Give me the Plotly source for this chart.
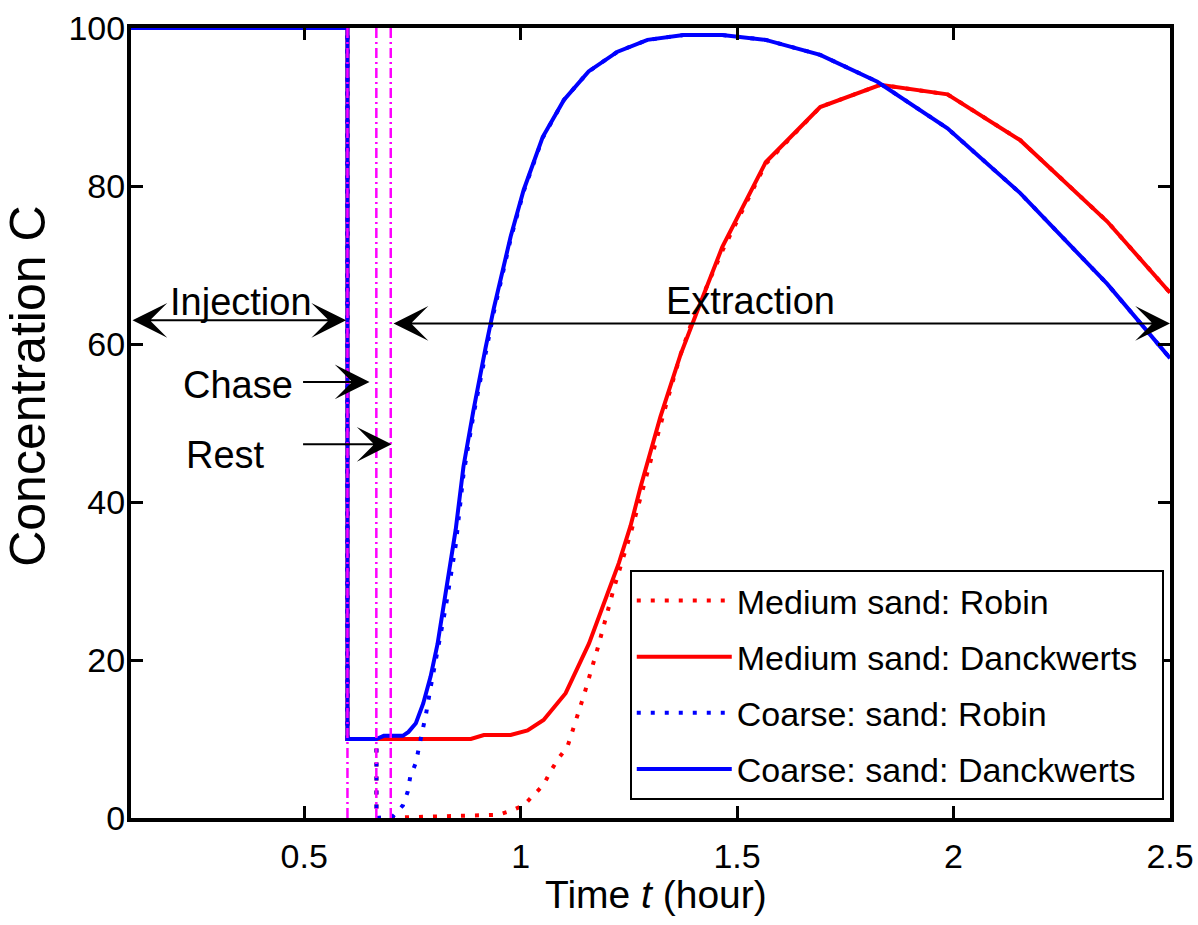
import plotly.graph_objects as go

# ---------------- data ----------------
t_med_robin = [0.1, 0.6, 0.6, 0.667, 0.667, 0.947, 0.977, 1.007, 1.03, 1.053, 1.069, 1.088, 1.108, 1.12,
               1.146, 1.178, 1.215, 1.254, 1.300, 1.339, 1.369, 1.40, 1.466, 1.566, 1.692, 1.831,
               1.986, 2.154, 2.355, 2.5]
c_med_robin = [100, 100, 10, 10, 0, 0.4, 0.9, 1.6, 2.9, 4.2, 5.9, 7.6, 9.0, 11.0,
               15.5, 21.5, 29.0, 36.0, 45.3, 52.9, 58.6, 63.5, 71.8, 82.8, 90.0, 92.8,
               91.6, 85.8, 75.5, 66.5]

t_med_danck = [0.1, 0.6, 0.6, 0.684, 0.885, 0.915, 0.977, 1.016, 1.053, 1.104, 1.158, 1.20, 1.227,
               1.254, 1.277, 1.323, 1.369, 1.409, 1.466, 1.566, 1.692, 1.831, 1.986, 2.154, 2.355, 2.5]
c_med_danck = [100, 100, 10, 10, 10, 10.5, 10.5, 11.1, 12.4, 15.8, 22.1, 28.3, 32.3,
               37.0, 41.9, 50.8, 58.6, 64.3, 72.3, 83.0, 90.0, 92.8, 91.6, 85.8, 75.5, 66.5]

t_coarse_robin = [0.1, 0.6, 0.6, 0.667, 0.667, 0.705, 0.728, 0.739, 0.745, 0.758, 0.771, 0.781,
                  0.792, 0.804, 0.827, 0.850, 0.868, 0.891, 0.919, 0.938, 0.977, 1.007, 1.051,
                  1.10, 1.157, 1.224, 1.293, 1.376, 1.466, 1.566, 1.692, 1.824, 1.986, 2.154,
                  2.355, 2.5]
c_coarse_robin = [100, 100, 10, 10, 0, 0.2, 1.6, 3.3, 5.2, 7.0, 10.5, 13.0,
                  16.5, 20.0, 26.7, 34.5, 43.5, 51.0, 59.0, 64.0, 73.3, 79.3, 86.1,
                  90.9, 94.5, 97.0, 98.5, 99.1, 99.1, 98.5, 96.6, 93.2, 87.3, 79.1,
                  67.6, 58.2]

t_coarse_danck = [0.1, 0.6, 0.6, 0.667, 0.684, 0.728, 0.741, 0.758, 0.775, 0.792, 0.808, 0.827,
                  0.850, 0.868, 0.891, 0.919, 0.938, 0.977, 1.007, 1.051, 1.10, 1.157, 1.224,
                  1.293, 1.376, 1.466, 1.566, 1.692, 1.824, 1.986, 2.154, 2.355, 2.5]
c_coarse_danck = [100, 100, 10, 10, 10.4, 10.4, 10.9, 12.0, 14.5, 17.9, 22.0, 28.9,
                  36.5, 44.5, 51.6, 59.5, 64.5, 73.6, 79.5, 86.2, 90.9, 94.5, 97.0,
                  98.5, 99.1, 99.1, 98.5, 96.6, 93.2, 87.3, 79.1, 67.6, 58.2]

phase_times = [0.6, 0.6667, 0.7]
series_names = ["Medium sand: Robin", "Medium sand: Danckwerts",
                "Coarse: sand: Robin", "Coarse: sand: Danckwerts"]
x_ticks = [0.5, 1, 1.5, 2, 2.5]
x_tick_text = ["0.5", "1", "1.5", "2", "2.5"]
y_ticks = [0, 20, 40, 60, 80, 100]

FONT = "Liberation Sans, Arial, sans-serif"
PAD = "\u00a0\u00a0"

fig = go.Figure()
traces = [
    (t_med_robin, c_med_robin, "#ff0000", "4px,10px"),
    (t_med_danck, c_med_danck, "#ff0000", "solid"),
    (t_coarse_robin, c_coarse_robin, "#0000ff", "4px,10px"),
    (t_coarse_danck, c_coarse_danck, "#0000ff", "solid"),
]
for i, (tx, cy, col, dash) in enumerate(traces):
    fig.add_trace(go.Scatter(x=tx, y=cy, mode="lines", name=series_names[i] + PAD,
                             legendgroup=f"g{i}",
                             line=dict(color=col, width=4, dash=dash)))

for pt in phase_times:
    fig.add_trace(go.Scatter(x=[pt, pt], y=[0, 100], mode="lines", showlegend=False,
                             line=dict(color="#ff00ff", width=2.5, dash="10px,4px,2px,4px")))

ann = []
def label(text, x, y):
    ann.append(dict(x=x, y=y, xref="x", yref="y", text=text, showarrow=False,
                    font=dict(family=FONT, size=38, color="black"),
                    xanchor="center", yanchor="middle"))

def arrow(x_tip, y_tip, x_tail, y_tail, both=False):
    d = dict(x=x_tip, y=y_tip, ax=x_tail, ay=y_tail, xref="x", yref="y",
             axref="x", ayref="y", text="", showarrow=True, arrowhead=3,
             arrowsize=2.9, arrowwidth=2, arrowcolor="black", standoff=0,
             startstandoff=0)
    if both:
        d.update(arrowside="end+start", startarrowhead=3, startarrowsize=2.9)
    ann.append(d)

label("Injection", 0.354, 65.3)
label("Extraction", 1.531, 65.5)
label("Chase", 0.347, 54.8)
label("Rest", 0.319, 46.0)
arrow(0.597, 63.0, 0.1, 63.0, both=True)
arrow(2.5, 62.6, 0.703, 62.6, both=True)
arrow(0.651, 55.2, 0.494, 55.2)
arrow(0.702, 47.3, 0.494, 47.3)

# axis titles as annotations for precise placement
ann.append(dict(x=0.505, y=-0.097, xref="paper", yref="paper",
                text="Time <i>t</i> (hour)", showarrow=False,
                font=dict(family=FONT, size=39, color="black"),
                xanchor="center", yanchor="middle"))
ann.append(dict(x=-0.099, y=0.546, xref="paper", yref="paper",
                text="Concentration C", showarrow=False, textangle=-90,
                font=dict(family=FONT, size=50, color="black"),
                xanchor="center", yanchor="middle"))

axis_common = dict(showline=True, linewidth=4, linecolor="black", mirror="ticks",
                   ticks="inside", ticklen=12, tickwidth=3, tickcolor="black",
                   showgrid=False, zeroline=False, automargin=False,
                   tickfont=dict(family=FONT, size=34, color="black"))

fig.update_layout(
    width=1198, height=925,
    margin=dict(l=131, r=28, t=28, b=107),
    paper_bgcolor="white", plot_bgcolor="white",
    xaxis=dict(range=[0.1, 2.5], tickvals=x_ticks, ticktext=x_tick_text,
               ticklabelstandoff=5, **axis_common),
    yaxis=dict(range=[0, 100], tickvals=y_ticks, ticklabelstandoff=-5, **axis_common),
    legend=dict(x=0.994, y=0.023, xanchor="right", yanchor="bottom",
                bordercolor="black", borderwidth=2, bgcolor="white",
                font=dict(family=FONT, size=34, color="black"),
                itemwidth=95,
                traceorder="grouped", tracegroupgap=9),
    annotations=ann,
    showlegend=True,
)

fig.write_html("out.html")
